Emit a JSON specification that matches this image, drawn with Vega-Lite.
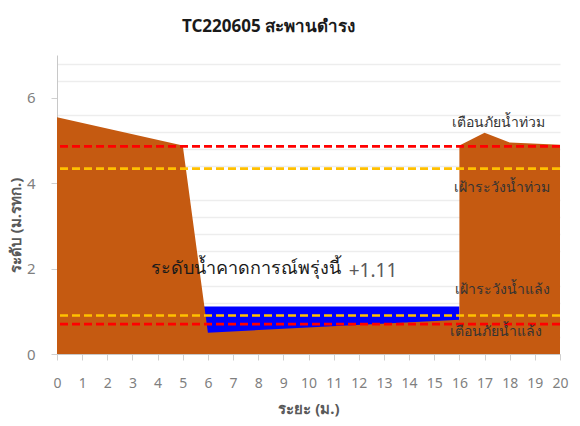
{
  "$schema": "https://vega.github.io/schema/vega-lite/v6.json",
  "width": 503,
  "height": 299,
  "autosize": "none",
  "padding": {"left": 57, "top": 55, "right": 20, "bottom": 72},
  "background": "white",
  "title": {
    "text": "TC220605 สะพานดำรง",
    "fontSize": 17,
    "fontWeight": "bold",
    "color": "#1a1a1a",
    "font": "Noto Sans",
    "anchor": "middle",
    "dx": -40,
    "offset": 19
  },
  "config": {
    "view": {"stroke": null},
    "font": "Noto Sans",
    "axisY": {"tickCount": 100}
  },
  "resolve": {"axis": {"y": "independent"}},
  "datasets": {
    "ground": [
      {"x": 0, "y": 5.54},
      {"x": 5, "y": 4.88},
      {"x": 6, "y": 0.5},
      {"x": 16, "y": 0.8},
      {"x": 16, "y": 4.88},
      {"x": 17, "y": 5.18},
      {"x": 18, "y": 4.95},
      {"x": 20, "y": 4.9}
    ],
    "water": [
      {"x": 5.8, "y": 1.11},
      {"x": 16, "y": 1.11}
    ],
    "levels": [
      {"name": "เตือนภัยน้ำท่วม", "y": 4.86, "kind": "warn"},
      {"name": "เฝ้าระวังน้ำท่วม", "y": 4.34, "kind": "watch"},
      {"name": "เฝ้าระวังน้ำแล้ง", "y": 0.9, "kind": "watch"},
      {"name": "เตือนภัยน้ำแล้ง", "y": 0.7, "kind": "warn"}
    ],
    "labels": [
      {"text": "เตือนภัยน้ำท่วม", "x": 17.55, "y": 5.41},
      {"text": "เฝ้าระวังน้ำท่วม", "x": 17.7, "y": 3.89},
      {"text": "เฝ้าระวังน้ำแล้ง", "x": 17.7, "y": 1.49},
      {"text": "เตือนภัยน้ำแล้ง", "x": 17.45, "y": 0.51}
    ],
    "forecast": [
      {"text": "ระดับน้ำคาดการณ์พรุ่งนี้", "num": "+1.11", "x": 11.3, "xn": 11.6, "y": 2.0}
    ]
  },
  "layer": [
    {
      "data": {"name": "water"},
      "mark": {"type": "area", "color": "#0000FF", "interpolate": "linear"},
      "encoding": {
        "x": {
          "field": "x", "type": "quantitative",
          "scale": {"domain": [0, 20], "nice": false, "zero": false},
          "axis": {
            "values": [0,1,2,3,4,5,6,7,8,9,10,11,12,13,14,15,16,17,18,19,20],
            "tickCount": 100,
            "format": "d",
            "labelOverlap": false,
            "title": "ระยะ (ม.)",
            "titleFontSize": 15,
            "titleFontWeight": "bold",
            "titleColor": "#595959",
            "titlePadding": 11,
            "labelFontSize": 14,
            "labelColor": "#7f7f7f",
            "labelPadding": 16,
            "labelFlush": false,
            "tickSize": 6,
            "tickColor": "#d0d0d0",
            "domainColor": "#c8c8c8",
            "grid": false
          }
        },
        "y": {
          "field": "y", "type": "quantitative",
          "stack": null,
          "scale": {"domain": [0, 7], "nice": false},
          "axis": {
            "orient": "left",
            "values": [0.4,0.8,1.2,1.6,2.4,2.8,3.2,3.6,4.4,4.8,5.2,5.6,6.4,6.8],
            "tickCount": 100,
            "labels": false,
            "ticks": false,
            "domain": false,
            "title": null,
            "grid": true,
            "gridColor": "#ededed",
            "gridWidth": 1.3
          }
        }
      }
    },
    {
      "data": {"name": "ground"},
      "mark": {"type": "area", "color": "#C55A11", "interpolate": "linear"},
      "encoding": {
        "x": {"field": "x", "type": "quantitative"},
        "y": {
          "field": "y", "type": "quantitative", "stack": null,
          "axis": {
            "orient": "left",
            "values": [0, 2, 4, 6],
            "tickCount": 100,
            "format": "d",
            "grid": false,
            "title": "ระดับ (ม.รทก.)",
            "titleFontSize": 15,
            "titleFontWeight": "bold",
            "titleColor": "#595959",
            "titleAngle": 270,
            "titleX": -42,
            "titleY": 170,
            "titleAlign": "center",
            "titleBaseline": "middle",
            "labelFontSize": 15,
            "labelColor": "#7f7f7f",
            "labelPadding": 16,
            "tickSize": 6,
            "tickColor": "#d0d0d0",
            "domainColor": "#c8c8c8"
          }
        }
      }
    },
    {
      "data": {"name": "levels"},
      "mark": {"type": "rule", "strokeWidth": 2.6, "strokeDash": [8, 4]},
      "encoding": {
        "y": {"field": "y", "type": "quantitative", "axis": null},
        "color": {
          "field": "kind", "type": "nominal",
          "scale": {"domain": ["warn", "watch"], "range": ["#FF0000", "#FFC000"]},
          "legend": null
        }
      }
    },
    {
      "data": {"name": "labels"},
      "mark": {"type": "text", "fontSize": 14, "color": "#333333", "align": "center", "baseline": "middle"},
      "encoding": {
        "x": {"field": "x", "type": "quantitative"},
        "y": {"field": "y", "type": "quantitative", "axis": null},
        "text": {"field": "text"}
      }
    },
    {
      "data": {"name": "forecast"},
      "mark": {"type": "text", "fontSize": 18, "color": "#1a1a1a", "align": "right", "baseline": "middle"},
      "encoding": {
        "x": {"field": "x", "type": "quantitative"},
        "y": {"field": "y", "type": "quantitative", "axis": null},
        "text": {"field": "text"}
      }
    },
    {
      "data": {"name": "forecast"},
      "mark": {"type": "text", "fontSize": 19, "color": "#595959", "align": "left", "baseline": "middle", "dy": 2},
      "encoding": {
        "x": {"field": "xn", "type": "quantitative"},
        "y": {"field": "y", "type": "quantitative", "axis": null},
        "text": {"field": "num"}
      }
    }
  ]
}
